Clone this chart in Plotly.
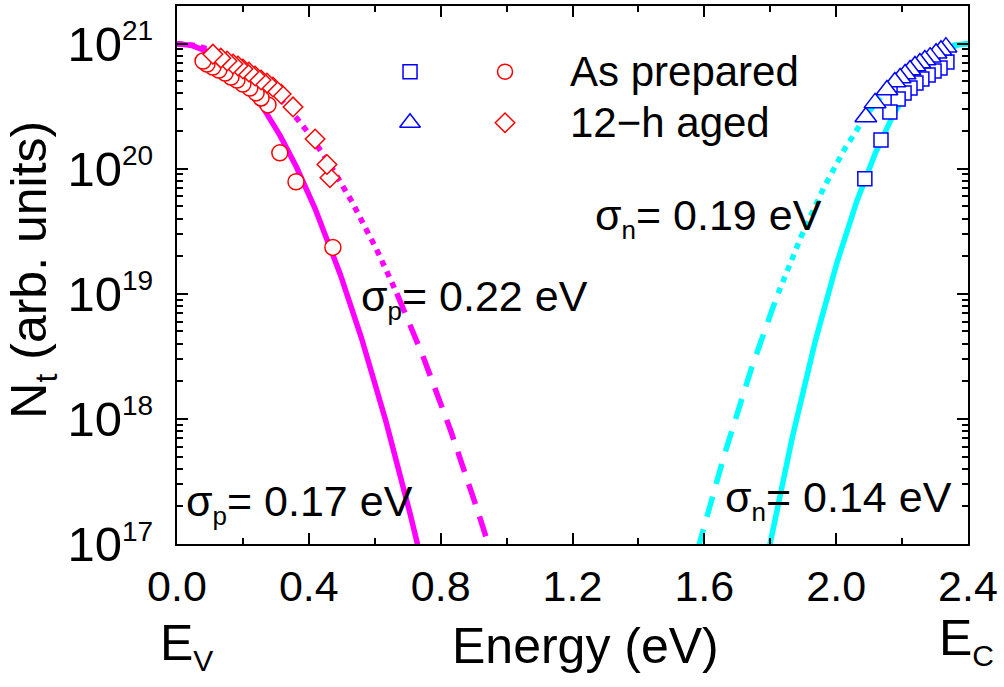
import numpy as np
import plotly.graph_objects as go

# ---- measured trap densities (energy in eV, N_t in arb. units) ----
# valence-band side (holes), as prepared
p_prep_E = [0.079, 0.091, 0.109, 0.127, 0.146, 0.164, 0.182, 0.200, 0.221, 0.240,
            0.255, 0.276, 0.312, 0.361, 0.473]
p_prep_N = [7.26e20, 6.87e20, 6.50e20, 6.15e20, 5.82e20, 5.41e20, 5.12e20, 4.75e20,
            4.42e20, 4.04e20, 3.68e20, 3.24e20, 1.34e20, 7.87e19, 2.35e19]
# valence-band side, 12-h aged
p_aged_E = [0.109, 0.133, 0.152, 0.170, 0.185, 0.200, 0.218, 0.237, 0.255, 0.273,
            0.291, 0.316, 0.352, 0.419, 0.455, 0.464]
p_aged_N = [8.24e20, 7.66e20, 7.26e20, 6.87e20, 6.62e20, 6.27e20, 5.93e20, 5.51e20,
            5.12e20, 4.84e20, 4.50e20, 3.96e20, 3.12e20, 1.73e20, 1.08e20, 8.47e19]
# conduction-band side (electrons), as prepared
n_prep_E = [2.087, 2.136, 2.163, 2.188, 2.206, 2.224, 2.242, 2.260, 2.279, 2.297,
            2.315, 2.336]
n_prep_N = [8.32e19, 1.70e20, 2.84e20, 3.61e20, 4.04e20, 4.42e20, 4.84e20, 5.21e20,
            5.61e20, 6.04e20, 6.38e20, 7.13e20]
# conduction-band side, 12-h aged
n_aged_E = [2.090, 2.118, 2.154, 2.178, 2.194, 2.209, 2.224, 2.239, 2.254, 2.269,
            2.285, 2.303, 2.318, 2.333]
n_aged_N = [2.59e20, 3.36e20, 4.26e20, 4.93e20, 5.31e20, 5.71e20, 6.15e20, 6.62e20,
            7.00e20, 7.40e20, 7.80e20, 8.39e20, 8.87e20, 9.38e20]

# ---- Gaussian band-tail fits ----
N0 = 1e21          # peak density at the band edge
E_V = 0.0          # valence-band edge
E_C = 2.4          # conduction-band edge
sigma_p_prep = 0.17
sigma_p_aged = 0.22
sigma_n_prep = 0.14
sigma_n_aged = 0.19
N_switch = 1e19    # dotted above, dashed below for the aged fits

x_ticks = [0.0, 0.4, 0.8, 1.2, 1.6, 2.0, 2.4]
y_decades = [17, 18, 19, 20, 21]

MAGENTA = "#FF00FF"
CYAN = "#00FFFF"
RED = "#FF0000"
BLUE = "#0000FF"
FONT = "Liberation Sans, Arial, sans-serif"


def gauss(E, E0, s):
    return N0 * np.exp(-((E - E0) ** 2) / (2 * s ** 2))


E_grid = np.linspace(0.0, 2.4, 2401)

fig = go.Figure()


def add_fit(E0, s, color, style):
    N = gauss(E_grid, E0, s)
    keep = N >= 0.9e17
    E = E_grid[keep]
    N = N[keep]
    if style == "solid":
        fig.add_trace(go.Scatter(x=E, y=N, mode="lines", showlegend=False,
                                 line=dict(color=color, width=5.5), hoverinfo="skip"))
    else:
        hi = N >= N_switch
        lo = N <= N_switch * 1.02
        fig.add_trace(go.Scatter(x=E[hi], y=N[hi], mode="lines", showlegend=False,
                                 line=dict(color=color, width=5.5, dash="6px,6px"),
                                 hoverinfo="skip"))
        fig.add_trace(go.Scatter(x=E[lo], y=N[lo], mode="lines", showlegend=False,
                                 line=dict(color=color, width=5.5, dash="21px,13px"),
                                 hoverinfo="skip"))


add_fit(E_V, sigma_p_aged, MAGENTA, "dash")
add_fit(E_C, sigma_n_aged, CYAN, "dash")
add_fit(E_V, sigma_p_prep, MAGENTA, "solid")
add_fit(E_C, sigma_n_prep, CYAN, "solid")


def add_points(E, N, symbol, color, size):
    fig.add_trace(go.Scatter(
        x=E[::-1], y=N[::-1], mode="markers", showlegend=False,
        marker=dict(symbol=symbol, size=size, color="white",
                    line=dict(color=color, width=1.5))))


add_points(p_prep_E, p_prep_N, "circle", RED, 16)
add_points(p_aged_E, p_aged_N, "diamond", RED, 15)
add_points(n_prep_E, n_prep_N, "square", BLUE, 14)
add_points(n_aged_E, n_aged_N, "triangle-up", BLUE, 19)

# ---- legend key (drawn on an overlay axis spanning the plot area) ----
key_rows = [
    ("As prepared", "square", "circle", 0.878),
    ("12\u2212h aged", "triangle-up", "diamond", 0.783),
]
for label, sym_n, sym_p, yk in key_rows:
    fig.add_trace(go.Scatter(
        x=[0.2946], y=[yk], xaxis="x2", yaxis="y2", mode="markers", showlegend=False,
        marker=dict(symbol=sym_n, size=18 if sym_n == "triangle-up" else 14,
                    color="white", line=dict(color=BLUE, width=1.5))))
    fig.add_trace(go.Scatter(
        x=[0.4147], y=[yk], xaxis="x2", yaxis="y2", mode="markers", showlegend=False,
        marker=dict(symbol=sym_p, size=15, color="white",
                    line=dict(color=RED, width=1.5))))
    fig.add_annotation(x=0.494, y=yk, xref="paper", yref="paper", text=label,
                       showarrow=False, xanchor="left", yanchor="middle",
                       font=dict(size=42, color="black", family=FONT))

# ---- sigma labels ----
def sigma_label(sub, val, x, y):
    txt = ("\u03c3<sub><span style='font-size:26px'>%s</span></sub>= %.2f eV" % (sub, val))
    fig.add_annotation(x=x, y=y, xref="paper", yref="paper", text=txt,
                       showarrow=False, xanchor="left", yanchor="middle",
                       font=dict(size=43, color="black", family=FONT))


sigma_label("p", sigma_p_prep, 0.009, 0.075)
sigma_label("p", sigma_p_aged, 0.230, 0.455)
sigma_label("n", sigma_n_aged, 0.526, 0.606)
sigma_label("n", sigma_n_prep, 0.690, 0.082)

# ---- band-edge labels and axis titles ----
fig.add_annotation(x=0.012, y=-0.19, xref="paper", yref="paper",
                   text="E<sub><span style='font-size:30px'>V</span></sub>",
                   showarrow=False, xanchor="center", yanchor="middle",
                   font=dict(size=50, color="black", family=FONT))
fig.add_annotation(x=0.998, y=-0.18, xref="paper", yref="paper",
                   text="E<sub><span style='font-size:30px'>C</span></sub>",
                   showarrow=False, xanchor="center", yanchor="middle",
                   font=dict(size=50, color="black", family=FONT))
fig.add_annotation(x=0.516, y=-0.19, xref="paper", yref="paper",
                   text="Energy (eV)", showarrow=False,
                   xanchor="center", yanchor="middle",
                   font=dict(size=50, color="black", family=FONT))
fig.add_annotation(x=-0.182, y=0.51, xref="paper", yref="paper",
                   text="N<sub><span style='font-size:32px'>t</span></sub> (arb. units)",
                   textangle=-90, showarrow=False,
                   xanchor="center", yanchor="middle",
                   font=dict(size=50, color="black", family=FONT))

y_ticktext = ["10<sup><span style='font-size:28px'>%d</span></sup>" % d for d in y_decades]
y_minor = [m * 10.0 ** d for d in range(17, 22) for m in range(2, 10)]

fig.update_layout(
    width=1004, height=687,
    margin=dict(l=177, r=36, t=4, b=143),
    paper_bgcolor="white", plot_bgcolor="white",
    font=dict(family=FONT, color="black"),
    xaxis=dict(
        range=[0, 2.4], tickvals=x_ticks,
        ticktext=["%.1f" % v for v in x_ticks],
        ticks="inside", ticklen=11, tickwidth=2, tickcolor="black",
        showline=True, linewidth=2, linecolor="black", mirror="allticks",
        showgrid=False, zeroline=False,
        tickfont=dict(size=43, family=FONT, color="black"),
        ticklabelstandoff=3,
        minor=dict(dtick=0.2, ticks="inside", ticklen=6, tickwidth=1.5,
                   tickcolor="black", showgrid=False),
    ),
    yaxis=dict(
        type="log", range=[17, np.log10(2e21)],
        tickvals=[10.0 ** d for d in y_decades], ticktext=y_ticktext,
        ticks="inside", ticklen=11, tickwidth=2, tickcolor="black",
        showline=True, linewidth=2, linecolor="black", mirror="allticks",
        showgrid=False, zeroline=False,
        tickfont=dict(size=49, family=FONT, color="black"),
        ticklabelstandoff=12,
        minor=dict(tickvals=y_minor, ticks="inside", ticklen=6, tickwidth=1.5,
                   tickcolor="black", showgrid=False),
    ),
    xaxis2=dict(overlaying="x", range=[0, 1], visible=False),
    yaxis2=dict(overlaying="y", range=[0, 1], visible=False),
    showlegend=False,
)

fig.write_html("out.html")
